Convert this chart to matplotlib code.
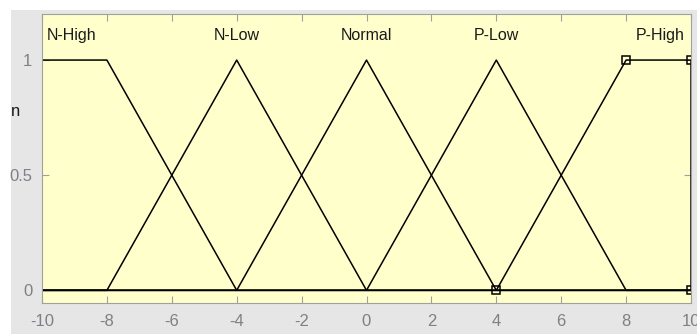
import matplotlib
matplotlib.use("Agg")
import matplotlib.pyplot as plt
from matplotlib.patches import Rectangle

plt.rcParams["font.family"] = ["Liberation Sans", "DejaVu Sans"]
plt.rcParams["axes.unicode_minus"] = False

# membership functions: vertex points (x, y) over the full input range
mf_names = ["N-High", "N-Low", "Normal", "P-Low", "P-High"]
mf_x = [
    [-10, -8, -4, 10],
    [-10, -8, -4, 0, 10],
    [-10, -4, 0, 4, 10],
    [-10, 0, 4, 8, 10],
    [-10, 4, 8, 10, 10],
]
mf_y = [
    [1, 1, 0, 0],
    [0, 0, 1, 0, 0],
    [0, 0, 1, 0, 0],
    [0, 0, 1, 0, 0],
    [0, 0, 1, 1, 0],
]
# label anchor x and alignment
label_x = [-9.85, -4, 0, 4, 9.8]
label_ha = ["left", "center", "center", "center", "right"]

# selected mf, its parameter points get square handles
sel_x = [4, 8, 10, 10]
sel_y = [0, 1, 1, 0]

xticks = list(range(-10, 11, 2))
yticks = [0, 0.5, 1]
yticklabels = ["0", "0.5", "1"]

fig = plt.figure(figsize=(6.97, 3.34), dpi=100, facecolor="#e6e6e6")
# white strips of the screenshot at top and left
fig.patches.append(Rectangle((0, 1 - 10 / 334), 1, 10 / 334, transform=fig.transFigure,
                             facecolor="white", edgecolor="none", zorder=-1))
fig.patches.append(Rectangle((0, 0), 11 / 697, 1, transform=fig.transFigure,
                             facecolor="white", edgecolor="none", zorder=-1))

ax = fig.add_axes([42 / 697, 31 / 334, (691 - 42) / 697, (303 - 14) / 334])
ax.set_facecolor("#ffffcc")

for xs, ys in zip(mf_x, mf_y):
    ax.plot(xs, ys, color="black", linewidth=1.1)

ax.plot(sel_x, sel_y, linestyle="none", marker="s", markersize=6,
        markerfacecolor="none", markeredgecolor="black", markeredgewidth=1.1)

for name, lx, ha in zip(mf_names, label_x, label_ha):
    ax.text(lx, 1.105, name, ha=ha, va="center", fontsize=11.5, color="#1a1a1a")

ax.set_xlim(-10, 10)
ax.set_ylim(-0.055, 1.2)
ax.set_xticks(xticks)
ax.set_yticks(yticks)
ax.set_yticklabels(yticklabels)

for sp in ax.spines.values():
    sp.set_color("#a0a0a0")
ax.tick_params(direction="in", length=5, color="#a0a0a0", labelcolor="#7f7f88",
               labelsize=12, top=True, right=True)
ax.tick_params(axis="x", pad=8)
ax.tick_params(axis="y", pad=7)

fig.text(11 / 697, 1 - 112 / 334, "n", ha="left", va="center", fontsize=12, color="#1a1a1a")

plt.savefig("out.png", dpi=100, facecolor=fig.get_facecolor())
plt.close("all")
